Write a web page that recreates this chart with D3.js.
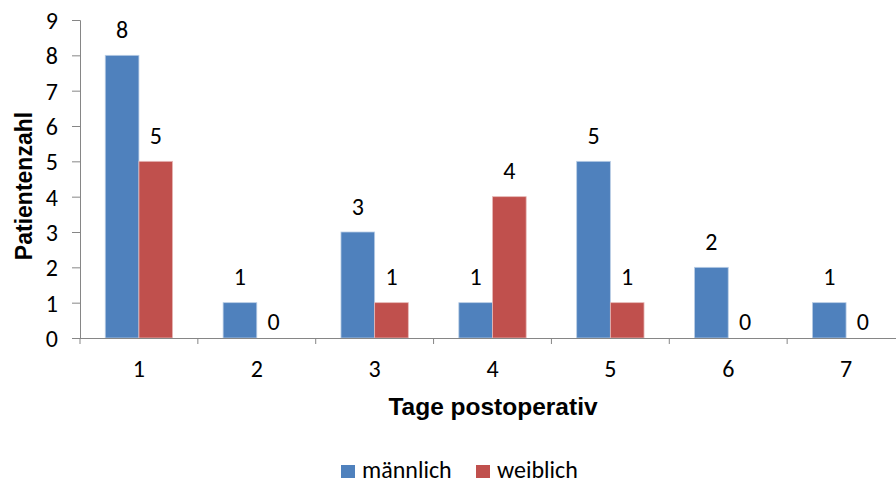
<!DOCTYPE html>
<html>
<head>
<meta charset="utf-8">
<script src="https://cdn.jsdelivr.net/npm/d3@7"></script>
<style>
  html, body { margin: 0; padding: 0; background: #fff; }
  svg { display: block; }
  .tick text { font-family: Carlito, Lato, "Open Sans", sans-serif; }
</style>
</head>
<body>
<svg id="chart" width="896" height="482"></svg>
<script>
// Patients per postoperative day, split by sex
const days = ["1", "2", "3", "4", "5", "6", "7"];
const maennlich = [8, 1, 3, 1, 5, 2, 1];
const weiblich = [5, 0, 1, 4, 1, 0, 0];
const seriesNames = ["männlich", "weiblich"];
const seriesColors = ["#4F81BD", "#C0504D"];
const yTicks = [0, 1, 2, 3, 4, 5, 6, 7, 8, 9];

const svg = d3.select("#chart");
const labelFont = "Carlito, Lato, 'Open Sans', sans-serif";
const titleFont = "'Liberation Sans', Arial, sans-serif";
const labelSize = 24;

const plot = { left: 80, right: 905, top: 20, bottom: 338 };

const x = d3.scaleBand().domain(days).range([plot.left, plot.right]).paddingInner(0).paddingOuter(0);
const inner = d3.scaleBand().domain(seriesNames).range([0, x.bandwidth()])
  .paddingInner(0).paddingOuter(0.75);
const y = d3.scaleLinear().domain([0, 9]).range([plot.bottom, plot.top]);

const rows = days.map((d, i) => ({ day: d, values: [maennlich[i], weiblich[i]] }));

// bars
const groups = svg.append("g").selectAll("g").data(rows).join("g")
  .attr("transform", d => `translate(${x(d.day)},0)`);

groups.selectAll("rect").data(d => d.values.map((v, k) => ({ v, k })))
  .join("rect")
  .attr("x", d => inner(seriesNames[d.k]))
  .attr("width", inner.bandwidth())
  .attr("y", d => y(d.v))
  .attr("height", d => y(0) - y(d.v))
  .attr("fill", d => seriesColors[d.k])
  .attr("stroke", d => d.v > 0 ? (d.k === 0 ? "#B9CDE5" : "#E6B9B8") : "none")
  .attr("stroke-width", 0.8);

// value labels above each bar (zero bars get their label just above the axis)
groups.selectAll("text.val").data(d => d.values.map((v, k) => ({ v, k })))
  .join("text")
  .attr("class", "val")
  .attr("x", d => inner(seriesNames[d.k]) + inner.bandwidth() / 2)
  .attr("y", d => y(d.v) - (d.v > 0 ? 17.5 : 8))
  .attr("text-anchor", "middle")
  .attr("font-family", labelFont)
  .attr("font-size", labelSize)
  .attr("fill", "#000")
  .text(d => d.v);

// y axis
const yAxis = svg.append("g").attr("transform", `translate(${plot.left},0)`)
  .call(d3.axisLeft(y).tickValues(yTicks).tickFormat(d3.format("d")).tickSizeOuter(0).tickSize(8).tickPadding(14));
yAxis.select(".domain").attr("stroke", "#868686");
yAxis.selectAll(".tick line").attr("stroke", "#868686");
yAxis.selectAll(".tick text").attr("font-size", labelSize).attr("fill", "#000").attr("dy", "0.36em");

// x axis with ticks at category boundaries
const xAxis = svg.append("g").attr("transform", `translate(0,${plot.bottom})`)
  .call(d3.axisBottom(x).tickSize(0).tickPadding(0));
xAxis.select(".domain").attr("stroke", "#868686").attr("d", `M${plot.left},0.5H${plot.right}`);
xAxis.selectAll(".tick text").attr("font-size", labelSize).attr("fill", "#000")
  .attr("y", 39).attr("dy", null);
xAxis.selectAll("line.sep").data(days.concat(["end"]))
  .join("line")
  .attr("class", "sep")
  .attr("x1", (d, i) => plot.left + i * x.step())
  .attr("x2", (d, i) => plot.left + i * x.step())
  .attr("y1", 0).attr("y2", 6)
  .attr("stroke", "#868686");

// axis titles
svg.append("text")
  .attr("transform", `translate(32,${(plot.top + plot.bottom) / 2 + 7}) rotate(-90)`)
  .attr("text-anchor", "middle")
  .attr("font-family", titleFont)
  .attr("font-weight", "bold")
  .attr("font-size", 23)
  .text("Patientenzahl");

svg.append("text")
  .attr("x", 493).attr("y", 415)
  .attr("text-anchor", "middle")
  .attr("font-family", titleFont)
  .attr("font-weight", "bold")
  .attr("font-size", 24.5)
  .text("Tage postoperativ");

// legend
const legendX = [341, 476];
const legend = svg.append("g").selectAll("g").data(seriesNames).join("g")
  .attr("transform", (d, i) => `translate(${legendX[i]},465)`);
legend.append("rect").attr("width", 14).attr("height", 13)
  .attr("fill", (d, i) => seriesColors[i]);
legend.append("text").attr("x", 21).attr("y", 13)
  .attr("font-family", labelFont).attr("font-size", labelSize).attr("fill", "#000")
  .text(d => d);
</script>
</body>
</html>
